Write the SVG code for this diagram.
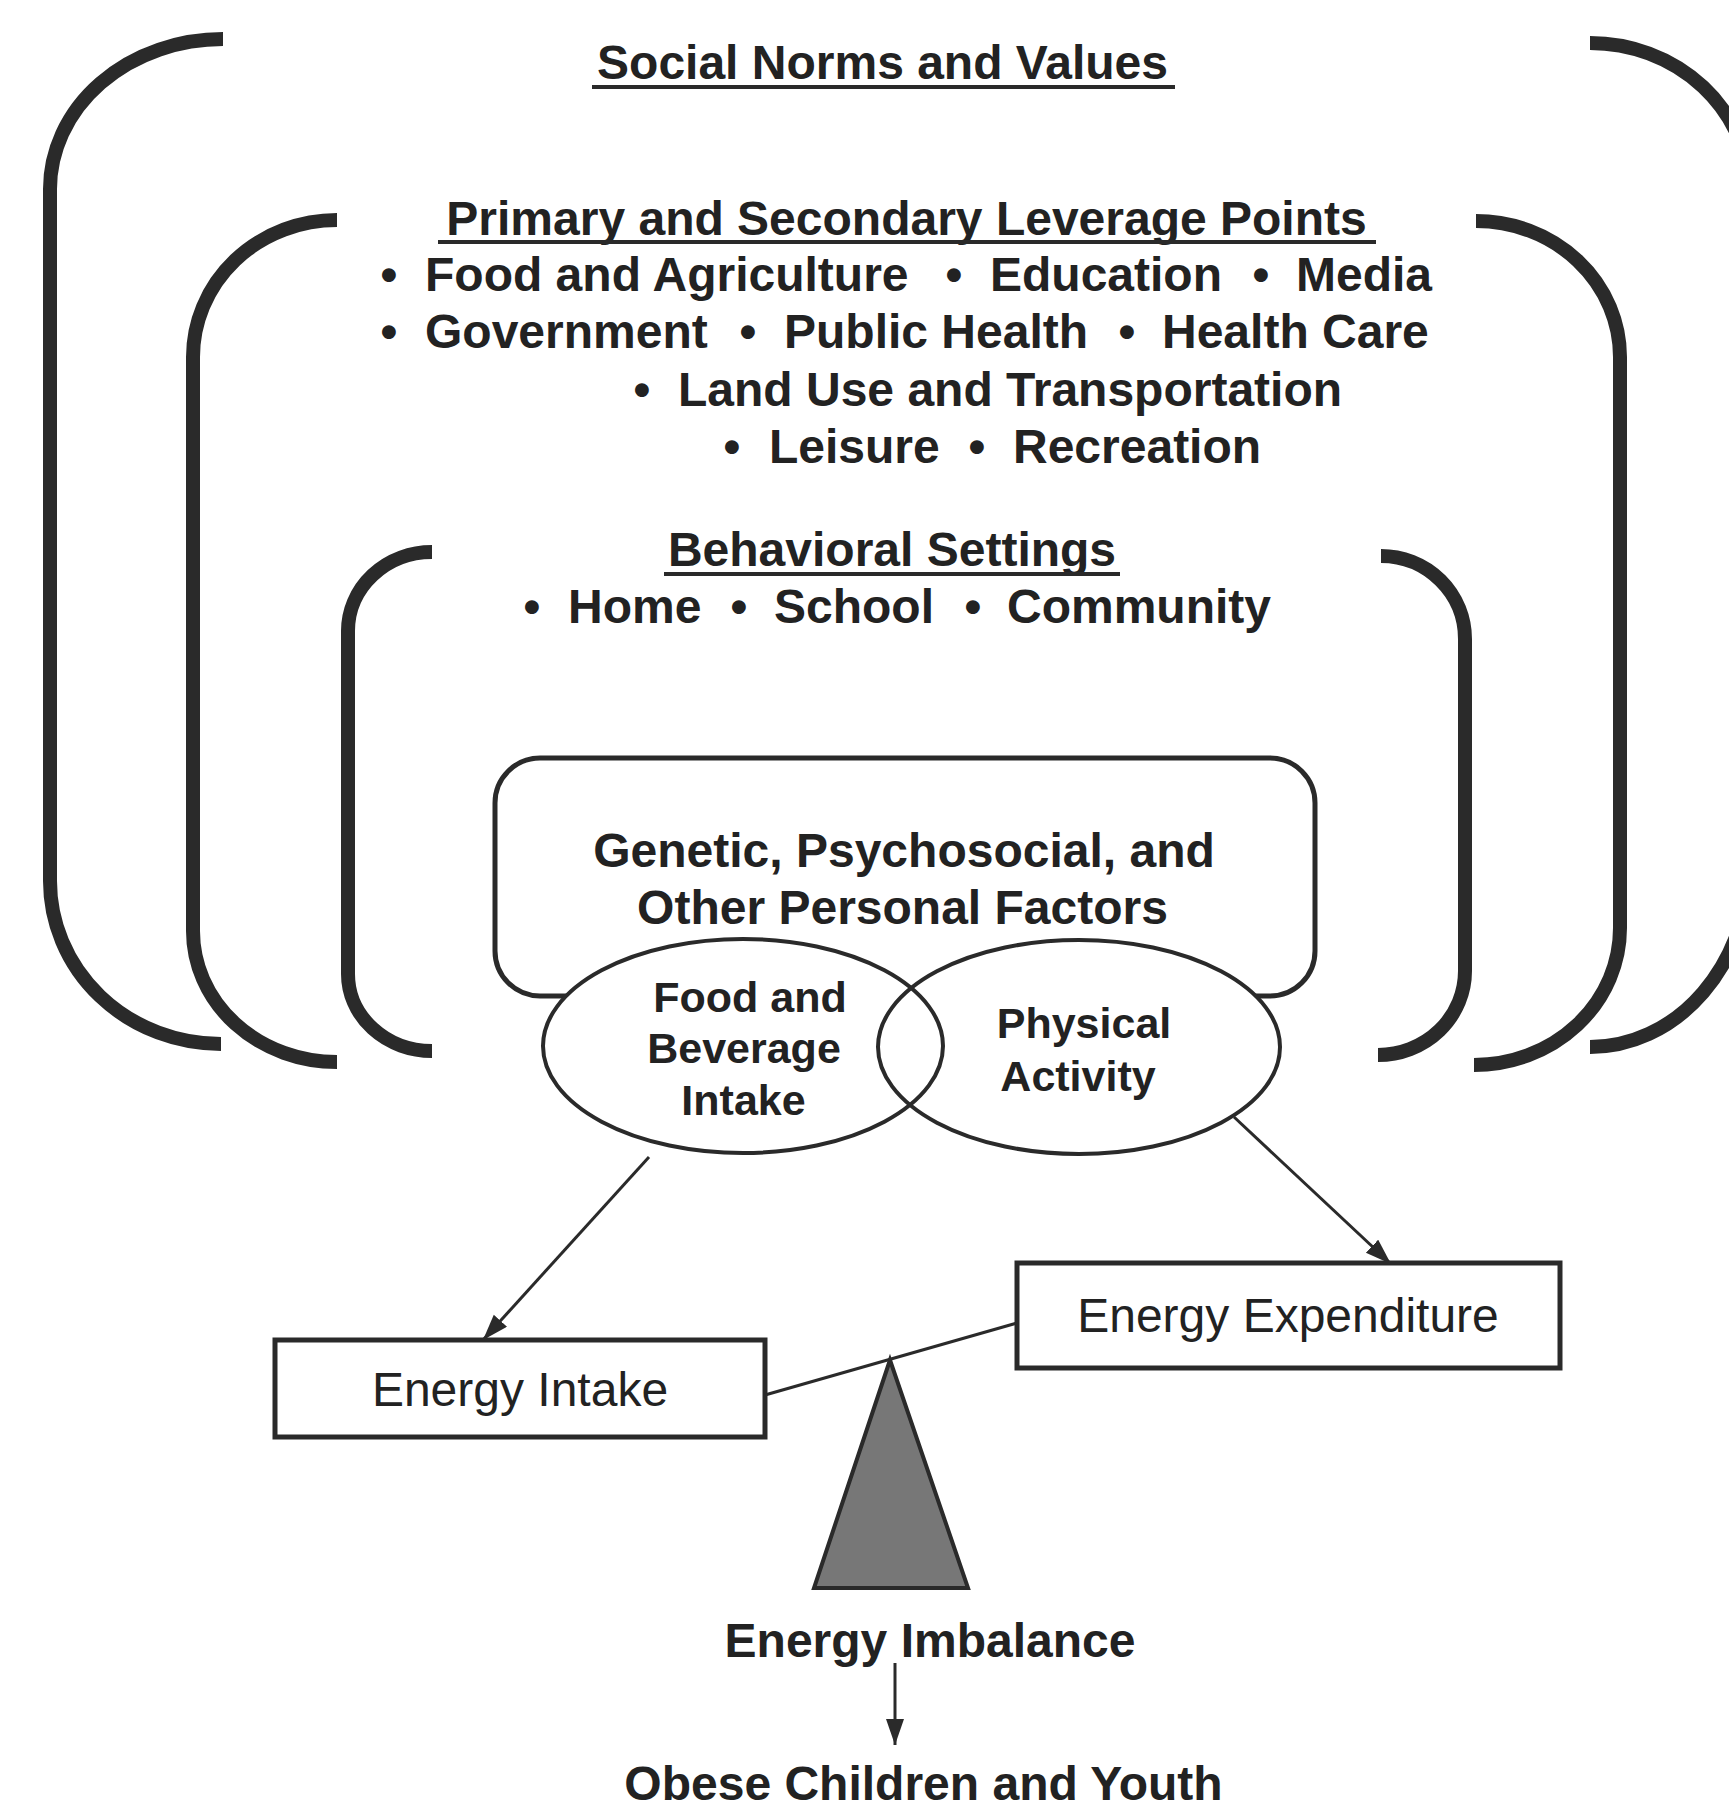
<svg xmlns="http://www.w3.org/2000/svg" width="1729" height="1811" viewBox="0 0 1729 1811">
<style>
  .br{fill:none;stroke:#2a2a2a;stroke-width:14;stroke-linecap:butt}
  .t{font-family:"Liberation Sans",Arial,Helvetica,sans-serif;font-weight:bold;font-size:48px;fill:#222}
  .tr{font-family:"Liberation Sans",Arial,Helvetica,sans-serif;font-weight:normal;font-size:48px;fill:#222}
  .te{font-family:"Liberation Sans",Arial,Helvetica,sans-serif;font-weight:bold;font-size:43px;fill:#222}
  .c{text-anchor:middle}
  .ul{stroke:#2a2a2a;stroke-width:4}
  .box{fill:#fff;stroke:#2a2a2a;stroke-width:5}
  .conn{fill:none;stroke:#2a2a2a;stroke-width:3}
</style>
<defs>
  <marker id="ah" markerUnits="userSpaceOnUse" markerWidth="28" markerHeight="20" refX="26" refY="9" orient="auto">
    <path d="M0,0 L26,9 L0,18 z" fill="#2a2a2a"/>
  </marker>
</defs>
<rect x="0" y="0" width="1729" height="1811" fill="#ffffff"/>

<g id="social-norms">
  <path class="br" d="M 223 39 A 173 150 0 0 0 50 189 L 50 881 A 171 163 0 0 0 221 1044"/>
  <path class="br" d="M 1590 43 A 160 150 0 0 1 1750 193 L 1750 861 A 160 186 0 0 1 1590 1047"/>
  <text class="t c" x="882.5" y="79">Social Norms and Values</text>
  <line class="ul" x1="592" y1="87" x2="1175" y2="87"/>
</g>

<g id="leverage-points">
  <path class="br" d="M 337 220 A 144 137 0 0 0 193 357 L 193 931 A 144 131 0 0 0 337 1062"/>
  <path class="br" d="M 1476 221 A 144 136 0 0 1 1620 357 L 1620 928 A 146 137 0 0 1 1474 1065"/>
  <text class="t c" x="906.5" y="235">Primary and Secondary Leverage Points</text>
  <line class="ul" x1="438" y1="242" x2="1376" y2="242"/>
  <text class="t c" x="389" y="291">•</text>
  <text class="t" x="425" y="291">Food and Agriculture</text>
  <text class="t c" x="954" y="291">•</text>
  <text class="t" x="990" y="291">Education</text>
  <text class="t c" x="1261" y="291">•</text>
  <text class="t" x="1296" y="291">Media</text>
  <text class="t c" x="389" y="348">•</text>
  <text class="t" x="425" y="348">Government</text>
  <text class="t c" x="748" y="348">•</text>
  <text class="t" x="784" y="348">Public Health</text>
  <text class="t c" x="1127" y="348">•</text>
  <text class="t" x="1162" y="348">Health Care</text>
  <text class="t c" x="642" y="406">•</text>
  <text class="t" x="678" y="406">Land Use and Transportation</text>
  <text class="t c" x="732" y="463">•</text>
  <text class="t" x="769" y="463">Leisure</text>
  <text class="t c" x="977" y="463">•</text>
  <text class="t" x="1013" y="463">Recreation</text>
</g>

<g id="behavioral-settings">
  <path class="br" d="M 432 552 A 84 79 0 0 0 348 631 L 348 974 A 84 77 0 0 0 432 1051"/>
  <path class="br" d="M 1381 556 A 84 83 0 0 1 1465 639 L 1465 971 A 87 84 0 0 1 1378 1055"/>
  <text class="t c" x="892" y="566">Behavioral Settings</text>
  <line class="ul" x1="664" y1="574" x2="1120" y2="574"/>
  <text class="t c" x="532" y="623">•</text>
  <text class="t" x="568" y="623">Home</text>
  <text class="t c" x="739" y="623">•</text>
  <text class="t" x="774" y="623">School</text>
  <text class="t c" x="973" y="623">•</text>
  <text class="t" x="1007" y="623">Community</text>
</g>

<g id="personal-factors">
  <rect x="495" y="758" width="820" height="238" rx="45" ry="45" fill="#fff" stroke="#2a2a2a" stroke-width="5"/>
  <text class="t c" x="904" y="867">Genetic, Psychosocial, and</text>
  <text class="t c" x="902.5" y="924">Other Personal Factors</text>
</g>

<g id="ellipse-fills">
  <ellipse cx="743" cy="1046" rx="200" ry="107" fill="#fff"/>
  <ellipse cx="1079" cy="1047" rx="201" ry="107" fill="#fff"/>
</g>

<g id="food-beverage-intake">
  <ellipse cx="743" cy="1046" rx="200" ry="107" fill="none" stroke="#2a2a2a" stroke-width="4"/>
  <text class="te c" x="750" y="1012">Food and</text>
  <text class="te c" x="744" y="1063">Beverage</text>
  <text class="te c" x="743.5" y="1115">Intake</text>
</g>

<g id="physical-activity">
  <ellipse cx="1079" cy="1047" rx="201" ry="107" fill="none" stroke="#2a2a2a" stroke-width="4"/>
  <text class="te c" x="1084" y="1038">Physical</text>
  <text class="te c" x="1078" y="1091">Activity</text>
</g>

<g id="connectors">
  <line class="conn" x1="649" y1="1157" x2="483" y2="1340" marker-end="url(#ah)"/>
  <line class="conn" x1="1234" y1="1117" x2="1391" y2="1264" marker-end="url(#ah)"/>
  <line class="conn" x1="765" y1="1395" x2="1017" y2="1323" stroke-width="4"/>
  <line class="conn" x1="895" y1="1663" x2="895" y2="1745" marker-end="url(#ah)"/>
</g>

<g id="energy-intake">
  <rect class="box" x="275" y="1340" width="490" height="97"/>
  <text class="tr c" x="520" y="1406">Energy Intake</text>
</g>

<g id="energy-expenditure">
  <rect class="box" x="1017" y="1263" width="543" height="105"/>
  <text class="tr c" x="1288" y="1332">Energy Expenditure</text>
</g>

<g id="fulcrum">
  <polygon points="890,1360 814,1588 968,1588" fill="#777" stroke="#2a2a2a" stroke-width="4" stroke-linejoin="miter"/>
</g>

<g id="energy-imbalance">
  <text class="t c" x="930" y="1657">Energy Imbalance</text>
</g>

<g id="obese-children">
  <text class="t c" x="923.5" y="1800">Obese Children and Youth</text>
</g>
</svg>
